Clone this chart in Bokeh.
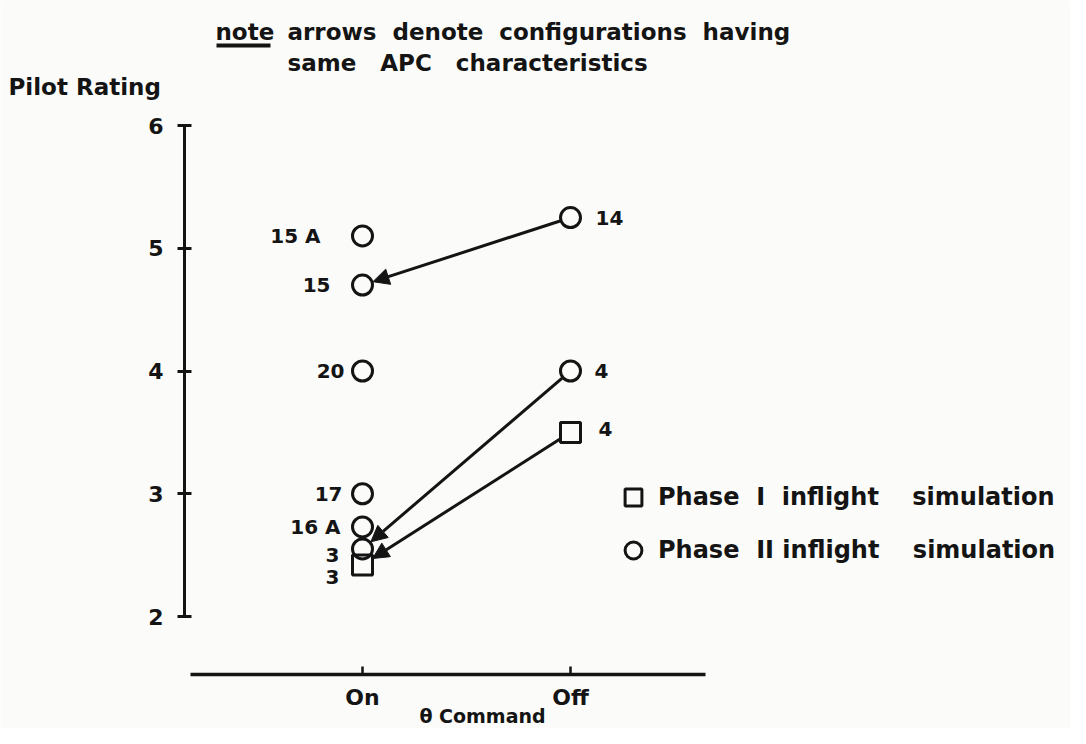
from bokeh.plotting import figure
from bokeh.models import (Range1d, FixedTicker, Label, Arrow, NormalHead, Legend,
                          LegendItem, BoxAnnotation, ColumnDataSource)
from bokeh.core.properties import value
from bokeh.embed import file_html
from bokeh.resources import INLINE

# ---------------- data ----------------
categories = ["On", "Off"]
cat_pos = {"On": 1, "Off": 2}
y_ticks = [2, 3, 4, 5, 6]

phase1_cmd = ["On", "Off"]
phase1_rating = [2.42, 3.5]
phase1_labels = ["3", "4"]

phase2_cmd = ["On", "On", "On", "On", "On", "On", "Off", "Off"]
phase2_rating = [5.1, 4.7, 4.0, 3.0, 2.73, 2.55, 5.25, 4.0]
phase2_labels = ["15 A", "15", "20", "17", "16 A", "3", "14", "4"]

# arrows link configurations with the same APC characteristics: (series, index) from -> to
arrow_pairs = [(("II", 6), ("II", 1)), (("II", 7), ("II", 5)), (("I", 1), ("I", 0))]

# ---------------- styling / layout ----------------
FONT = "DejaVu Sans"
INK = "#141414"
BG = "#fbfbf9"
W, H = 1070, 728
SX, SY = 208.0, 122.75    # px per data unit
x0 = 1 - 362 / SX         # data x at canvas left
x1 = x0 + W / SX
y0 = 2 - (H - 616) / SY   # data y at canvas bottom
y1 = y0 + H / SY

def X(px):   # canvas px -> data x (annotation placement)
    return x0 + px / SX

def Y(py):   # canvas px -> data y
    return y0 + (H - py) / SY

p = figure(width=W, height=H, output_backend="svg", toolbar_location=None,
           x_range=Range1d(x0, x1), y_range=Range1d(y0, y1),
           min_border=0)
p.background_fill_color = BG
p.border_fill_color = BG
p.outline_line_color = None
p.xgrid.visible = False
p.ygrid.visible = False

# y axis
ya = p.yaxis[0]
ya.fixed_location = X(184)
ya.ticker = FixedTicker(ticks=y_ticks)
ya.bounds = (2, 6)
ya.axis_line_width = 3
ya.axis_line_color = INK
ya.major_tick_line_width = 3
ya.major_tick_line_color = INK
ya.major_tick_in = 7
ya.major_tick_out = 7
ya.minor_tick_line_color = None
ya.major_label_standoff = 14
ya.major_label_text_font = FONT
ya.major_label_text_font_size = "22px"
ya.major_label_text_font_style = "bold"
ya.major_label_text_color = INK

# x axis
xa = p.xaxis[0]
xa.fixed_location = Y(674)
xa.ticker = FixedTicker(ticks=[cat_pos[c] for c in categories])
xa.major_label_overrides = {cat_pos[c]: c for c in categories}
xa.bounds = (X(190), X(705))
xa.axis_line_width = 3.5
xa.axis_line_color = INK
xa.major_tick_line_width = 2.5
xa.major_tick_line_color = INK
xa.major_tick_in = 8
xa.major_tick_out = 0
xa.minor_tick_line_color = None
xa.major_label_standoff = 10
xa.major_label_text_font = FONT
xa.major_label_text_font_size = "22px"
xa.major_label_text_font_style = "bold"
xa.major_label_text_color = INK

# ---------------- series ----------------
p1x = [cat_pos[c] for c in phase1_cmd]
p2x = [cat_pos[c] for c in phase2_cmd]

r1 = p.scatter(p1x, phase1_rating, marker="square", size=20, fill_color=None,
               line_color=INK, line_width=3)
r2 = p.scatter(p2x, phase2_rating, marker="circle", size=20, fill_color=None,
               line_color=INK, line_width=3)

# point labels (offsets in px are styling)
p1_dx = [-23, 28]
p1_dy = [12, -3]
p2_dx = [-42, -32, -18, -20, -22, -23, 25, 24]
p2_dy = [0, 0, 0, 0, 0, 6, 0, 0]

def add_labels(xs, ys, labels, dxs, dys):
    for side, align in (("On", "right"), ("Off", "left")):
        idx = [i for i, xv in enumerate(xs) if xv == cat_pos[side]]
        src = ColumnDataSource(dict(x=[xs[i] for i in idx], y=[ys[i] for i in idx],
                                    t=[labels[i] for i in idx], dx=[dxs[i] for i in idx],
                                    dy=[dys[i] for i in idx]))
        p.text(x="x", y="y", text="t", x_offset="dx", y_offset="dy", source=src,
               text_align=align, text_baseline="middle", text_font=value(FONT),
               text_font_size="20px", text_font_style="bold", text_color=INK)

add_labels(p1x, phase1_rating, phase1_labels, p1_dx, p1_dy)
add_labels(p2x, phase2_rating, phase2_labels, p2_dx, p2_dy)

# arrows
series = {"I": (p1x, phase1_rating, 12), "II": (p2x, phase2_rating, 11)}
for (sa, ia), (sb, ib) in arrow_pairs:
    xa_, ya_ = series[sa][0][ia], series[sa][1][ia]
    xb_, yb_, rb = series[sb][0][ib], series[sb][1][ib], series[sb][2]
    ddx, ddy = (xb_ - xa_) * SX, (yb_ - ya_) * SY
    L = (ddx ** 2 + ddy ** 2) ** 0.5
    ra = 11
    p.add_layout(Arrow(x_start=xa_ + ddx / L * ra / SX, y_start=ya_ + ddy / L * ra / SY,
                       x_end=xb_ - ddx / L * rb / SX, y_end=yb_ - ddy / L * rb / SY,
                       line_width=3, line_color=INK,
                       end=NormalHead(size=16, fill_color=INK, line_color=INK, line_width=1)))

# legend
NB = "\u00a0"
legend = Legend(items=[LegendItem(label="Phase" + NB * 2 + "I" + NB * 2 + "inflight" + NB * 4 + "simulation", renderers=[r1]),
                       LegendItem(label="Phase" + NB * 2 + "II" + NB + "inflight" + NB * 4 + "simulation", renderers=[r2])],
                location=(612, H - 571), glyph_width=42, glyph_height=42, spacing=11,
                padding=0, margin=0, border_line_color=None, background_fill_alpha=0,
                label_standoff=4, label_text_font=FONT, label_text_font_size="24px",
                label_text_font_style="bold", label_text_color=INK, label_height=42)
p.add_layout(legend)

# texts
def lab(text, px, py, size="22px", align="left", baseline="middle"):
    p.add_layout(Label(x=X(px), y=Y(py), text=text, text_font=FONT, text_font_size=size,
                       text_font_style="bold", text_color=INK, text_align=align,
                       text_baseline=baseline))

lab("Pilot Rating", 8, 86, size="23px")
lab("note", 215, 31, size="23px")
p.add_layout(BoxAnnotation(left=X(216), right=X(270), top=Y(43), bottom=Y(47),
                           fill_color=INK, fill_alpha=1, line_color=None))
lab("arrows" + NB * 2 + "denote" + NB * 2 + "configurations" + NB * 2 + "having", 287, 31, size="23px")
lab("same" + NB * 3 + "APC" + NB * 3 + "characteristics", 287, 62, size="23px")
lab("\u03b8 Command", 482, 715, size="19px", align="center")

open("out.html", "w").write(file_html(p, INLINE))
